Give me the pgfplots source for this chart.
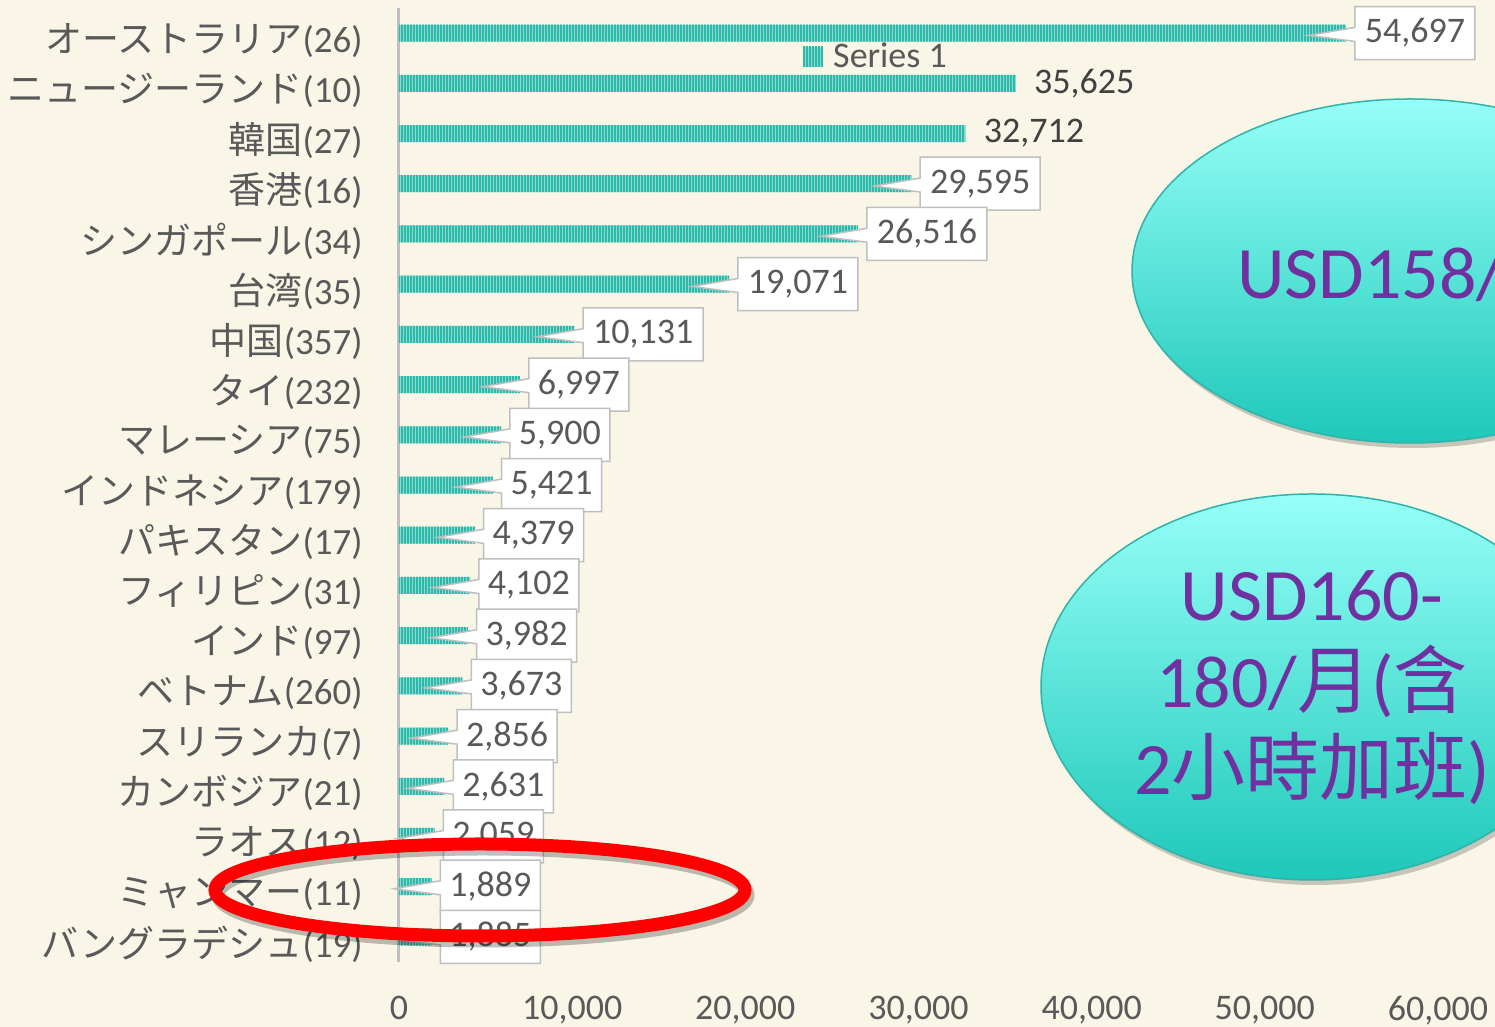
\documentclass[border=0pt]{standalone}
\usepackage{fontspec}
\setmainfont{Carlito}
\newfontfamily\jp{Noto Sans CJK JP}
\newfontfamily\tc{Noto Sans CJK TC}
\usepackage{pgfplots}
\pgfplotsset{compat=1.18}
\usetikzlibrary{patterns.meta,shapes.callouts}

\definecolor{bg}{HTML}{F9F6E8}
\definecolor{bardark}{HTML}{2DB9A9}
\definecolor{barlight}{HTML}{8CDAD1}
\definecolor{lbl}{HTML}{595959}
\definecolor{lbldark}{HTML}{404040}
\definecolor{boxline}{HTML}{BFBFBF}
\definecolor{axisgray}{HTML}{BFBFBF}
\definecolor{usd}{HTML}{7030A0}
\definecolor{elltop}{HTML}{96FFF8}
\definecolor{ellbot}{HTML}{1EC8B9}
\definecolor{ellline}{HTML}{30B3A8}

\pgfplotsset{
  bars/.style={fill=barlight, draw=none, bar shift=0pt,
    postaction={pattern={Lines[angle=90,distance=1.5pt,line width=1pt]}, pattern color=bardark},
    nodes near coords},
  callout box/.style={
    every node near coord/.append style={
      shape=rectangle callout, draw=boxline, fill=white, line width=0.75pt,
      font=\fontsize{18}{21.6}\selectfont, text=lbl,
      anchor=west, xshift=4pt, inner sep=0pt, minimum height=26.5pt,
      text width=#1, align=center,
      callout relative pointer={(-23pt,-0.5pt)}, callout pointer width=7pt}},
}

\begin{document}
\begin{tikzpicture}
\useasboundingbox (-199.5pt,-32.5pt) rectangle (548pt,481pt);
\begin{scope}
\clip (-199.5pt,-32.5pt) rectangle (548pt,481pt);
\fill[bg] (-199.5pt,-32.5pt) rectangle (548pt,481pt);
\begin{axis}[
  at={(0pt,0pt)}, anchor=south west,
  scale only axis, width=519.5pt, height=477pt,
  xbar, bar shift=0pt, bar width=8.5pt,
  xmin=0, xmax=60000, ymin=-0.5, ymax=18.5, y dir=reverse,
  clip=false,
  axis lines*=left, axis line style={-},
  x axis line style={draw=none},
  y axis line style={draw=axisgray, line width=1.5pt},
  major tick length=0pt, tick style={draw=none},
  xtick={0,10000,...,60000}, scaled x ticks=false,
  ytick={0,...,18},
  yticklabels={{\jp オーストラリア}(26),{\jp ニュージーランド}(10),{\jp 韓国}(27),{\jp 香港}(16),{\jp シンガポール}(34),{\jp 台湾}(35),{\jp 中国}(357),{\jp タイ}(232),{\jp マレーシア}(75),{\jp インドネシア}(179),{\jp パキスタン}(17),{\jp フィリピン}(31),{\jp インド}(97),{\jp ベトナム}(260),{\jp スリランカ}(7),{\jp カンボジア}(21),{\jp ラオス}(12),{\jp ミャンマー}(11),{\jp バングラデシュ}(19)},
  tick label style={font=\fontsize{18}{21.6}\selectfont, text=lbl, inner sep=0pt},
  xticklabel style={yshift=-17pt},
  yticklabel style={xshift=-18pt, yshift=-3.5pt, font=\fontsize{18.5}{22}\selectfont},
  /pgf/number format/1000 sep={,},
  /pgf/number format/assume math mode=true,
  legend style={at={(0.463,0.949)}, anchor=center, draw=none, fill=none,
    font=\fontsize{18}{21.6}\selectfont, text=lbl,
    nodes={inner xsep=5pt}},
  legend image code/.code={
    \fill[barlight] (0pt,-5pt) rectangle (10pt,5pt);
    \fill[pattern={Lines[angle=90,distance=1.5pt,line width=1pt]}, pattern color=bardark] (0pt,-5pt) rectangle (10pt,5pt);
  },
]
% five-digit values with a callout box
\addplot[bars, callout box=60pt] coordinates {
  (54697,0) (29595,3) (26516,4) (19071,5) (10131,6)
};
\addlegendentry{Series 1}
% values shown without a box
\addplot[bars, forget plot,
  every node near coord/.append style={font=\fontsize{18}{21.6}\selectfont, text=lbldark,
    anchor=west, xshift=4pt, inner sep=0pt, text width=60pt, align=center}]
  coordinates {(35625,1) (32712,2)};
% four-digit values with a callout box
\addplot[bars, forget plot, callout box=50pt] coordinates {
  (6997,7) (5900,8) (5421,9) (4379,10) (4102,11) (3982,12) (3673,13)
  (2856,14) (2631,15) (2059,16) (1889,17) (1885,18)
};
\end{axis}

\fill[black, opacity=0.2] (507pt,343pt) ellipse [x radius=139pt, y radius=86pt];
\shade[top color=elltop, bottom color=ellbot, draw=ellline, line width=0.75pt]
  (505.5pt,345.5pt) ellipse [x radius=139pt, y radius=86pt];
\node[anchor=west, text=usd, font=\fontsize{37}{44}\selectfont, inner sep=0pt]
  at (419pt,345pt) {USD158/{\tc 月}};

\fill[black, opacity=0.2] (458pt,135pt) ellipse [x radius=135.5pt, y radius=96.5pt];
\shade[top color=elltop, bottom color=ellbot, draw=ellline, line width=0.75pt]
  (456.5pt,137.5pt) ellipse [x radius=135.5pt, y radius=96.5pt];
\node[align=center, text=usd, font=\fontsize{37}{43.5}\selectfont, inner sep=0pt]
  at (456.5pt,137pt) {USD160-\\180/{\tc 月}({\tc 含}\\2{\tc 小時加班})};

\draw[black, opacity=0.25, line width=6.5pt] (42pt,33.5pt) ellipse [x radius=132.5pt, y radius=23pt];
\draw[red, line width=6.5pt] (40.5pt,36pt) ellipse [x radius=132.5pt, y radius=23pt];
\end{scope}
\end{tikzpicture}
\end{document}
